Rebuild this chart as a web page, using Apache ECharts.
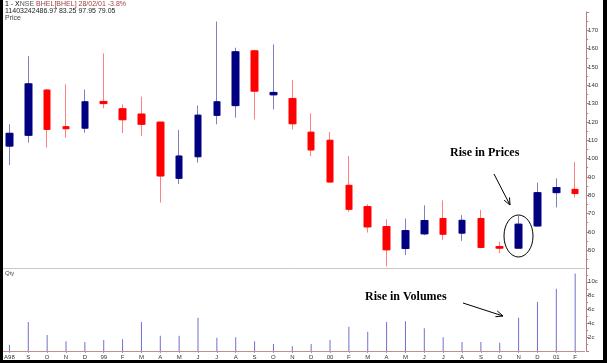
<!DOCTYPE html>
<html><head><meta charset="utf-8">
<script src="https://cdn.jsdelivr.net/npm/echarts@6/dist/echarts.min.js"></script>
<style>html,body{margin:0;padding:0;background:#fff}#c{width:607px;height:363px}</style>
</head><body><div id="c"></div>
<script>
const months = ["A98","S","O","N","D","99","F","M","A","M","J","J","A","S","O","N","D","00","F","M","A","M","J","J","A","S","O","N","D","01","F"];
const opens  = [106.8,112.7,137.4,117.4,116.6,131.2,127.2,124.3,119.9,89.2,101,123.6,128.9,158.8,134.8,132.8,114.4,110,85.4,73.8,62.9,50.9,58.9,67.3,59.3,67.3,52,51.1,63.2,81.4,83.2];
const closes = [113.8,140.8,115.9,116.3,131,130,121.2,118.7,90.5,101.4,123.7,131,158.3,136.8,136.1,119,104.7,87.2,72.3,62.7,50.2,60.7,66.2,58.7,66.3,51.5,51.1,64.2,81.4,84.2,80.9];
const lows   = [96.5,108.7,106,111.4,114.1,127.4,113.9,112.3,76,86.1,97.8,118.7,122.3,121.4,126.8,115.9,101.4,87.2,70.9,59.6,41.1,47.3,58.2,55.6,55.1,51,48.4,51.1,63.2,73.3,78.7];
const highs  = [118.7,155.9,138,140.5,137.7,157.4,129.6,133.8,119.9,115.6,129,174.8,160.5,159.5,162.3,142.8,124.7,114.5,101.4,75.1,66.9,67.3,74.5,77.2,69.1,72,54.7,68.7,86.9,89.2,98.1];
const volumes = [0.9,4.2,2.3,1.4,1.3,1.6,1.7,4.2,2.2,2.2,4.8,1.9,2.0,1.4,1.0,0.7,1.0,1.6,3.5,2.8,4.2,4.3,3.3,2.0,1.3,1.3,1.2,4.8,7.1,9.0,11.2];
const priceTicks = [50,60,70,80,90,100,110,120,130,140,150,160,170];
const volTicks = ["2c","4c","6c","8c","10c"];

const full = months.map((m,i)=>[opens[i],closes[i],lows[i],highs[i]]);
const bodies = months.map((m,i)=>[opens[i],closes[i],Math.min(opens[i],closes[i]),Math.max(opens[i],closes[i])]);

const FONT = 'Liberation Sans';
const chart = echarts.init(document.getElementById('c'), null, {renderer:'canvas'});
chart.setOption({
  animation:false,
  backgroundColor:'#ffffff',
  grid:[
    {left:-3.5, right:22.4, top:12, height:256.5},
    {left:-3.5, right:22.4, top:268, height:83}
  ],
  xAxis:[
    {type:'category', gridIndex:0, data:months, boundaryGap:true,
     axisLine:{show:true, lineStyle:{color:'#c8c8c8', width:1}}, axisTick:{show:false}, axisLabel:{show:false}, splitLine:{show:false}},
    {type:'category', gridIndex:1, data:months, boundaryGap:true,
     axisLine:{show:true, lineStyle:{color:'#c09090', width:1}},
     axisTick:{show:true, alignWithLabel:true, length:2, lineStyle:{color:'#c09090'}},
     axisLabel:{show:true, interval:0, fontSize:6, color:'#333', margin:3, fontFamily:FONT},
     splitLine:{show:false}}
  ],
  yAxis:[
    {type:'value', gridIndex:0, position:'right', offset:1.5, min:40, max:180, interval:10,
     axisLine:{show:true, lineStyle:{color:'#b08080'}},
     axisTick:{show:true, length:3, lineStyle:{color:'#b08080'}},
     minorTick:{show:true, splitNumber:2, length:2, lineStyle:{color:'#b08080'}},
     axisLabel:{show:true, fontSize:6, color:'#333', margin:2, fontFamily:FONT,
       formatter:v=>priceTicks.indexOf(v)>=0 ? String(v) : ''},
     splitLine:{show:false}},
    {type:'value', gridIndex:1, position:'right', offset:1.5, min:0, max:12, interval:2,
     axisLine:{show:true, lineStyle:{color:'#b08080'}},
     axisTick:{show:true, length:3, lineStyle:{color:'#b08080'}},
     minorTick:{show:true, splitNumber:2, length:2, lineStyle:{color:'#b08080'}},
     axisLabel:{show:true, fontSize:6, color:'#333', margin:2, fontFamily:FONT,
       formatter:v=>{const k=v/2-1; return (k>=0 && k<volTicks.length) ? volTicks[k] : '';}},
     splitLine:{show:false}}
  ],
  series:[
    {type:'candlestick', xAxisIndex:0, yAxisIndex:0, data:full, barWidth:8,
     itemStyle:{color:'#9090d0', color0:'#ff9090', borderColor:'#8080c0', borderColor0:'#ff8080', borderWidth:1}},
    {type:'candlestick', xAxisIndex:0, yAxisIndex:0, data:bodies, barWidth:6,
     itemStyle:{color:'#000080', color0:'#ff0000', borderColor:'#000080', borderColor0:'#ff0000', borderWidth:1}},
    {type:'bar', xAxisIndex:1, yAxisIndex:1, data:volumes, barWidth:1,
     itemStyle:{color:'#7070d0'}}
  ],
  graphic:[
    {type:'rect', shape:{x:0,y:0,width:3,height:363}, style:{fill:'#000'}, z:100},
    {type:'rect', shape:{x:603,y:0,width:4,height:363}, style:{fill:'#000'}, z:100},
    {type:'rect', shape:{x:0,y:360,width:607,height:3}, style:{fill:'#000'}, z:100},
    {type:'text', left:5, top:1, style:{text:'{a|1 - X}{b|NSE }{c|BHEL[BHEL] 28/02/01 -3.8%}',
      rich:{a:{fontSize:7,fill:'#000',fontFamily:FONT},b:{fontSize:7,fill:'#555',fontFamily:FONT},c:{fontSize:7,fill:'#a04040',fontFamily:FONT}}}},
    {type:'text', left:5, top:8, style:{text:'11403242486.97 83.25 97.95 79.05', fontSize:7, fill:'#222', fontFamily:FONT}},
    {type:'text', left:5, top:15, style:{text:'Price', fontSize:7, fill:'#444', fontFamily:FONT}},
    {type:'text', left:5, top:270, style:{text:'Qty', fontSize:6, fill:'#444', fontFamily:FONT}},
    {type:'text', left:450, top:147, style:{text:'Rise in Prices', fontSize:12, fontWeight:'bold', fill:'#000', fontFamily:'Liberation Serif'}},
    {type:'text', left:365, top:291, style:{text:'Rise in Volumes', fontSize:12, fontWeight:'bold', fill:'#000', fontFamily:'Liberation Serif'}},
    {type:'line', shape:{x1:494,y1:174,x2:510,y2:205}, style:{stroke:'#000', lineWidth:1}},
    {type:'polyline', shape:{points:[[504.1,200.2],[510,205],[509.5,197.4]]}, style:{stroke:'#000', lineWidth:1, fill:null}},
    {type:'line', shape:{x1:463,y1:303,x2:503,y2:316}, style:{stroke:'#000', lineWidth:1}},
    {type:'polyline', shape:{points:[[495.4,316.7],[503,316],[497.2,310.9]]}, style:{stroke:'#000', lineWidth:1, fill:null}},
    {type:'ellipse', shape:{cx:518.5, cy:236, rx:14.5, ry:21}, style:{stroke:'#000', lineWidth:1, fill:null}}
  ]
});
</script></body></html>
